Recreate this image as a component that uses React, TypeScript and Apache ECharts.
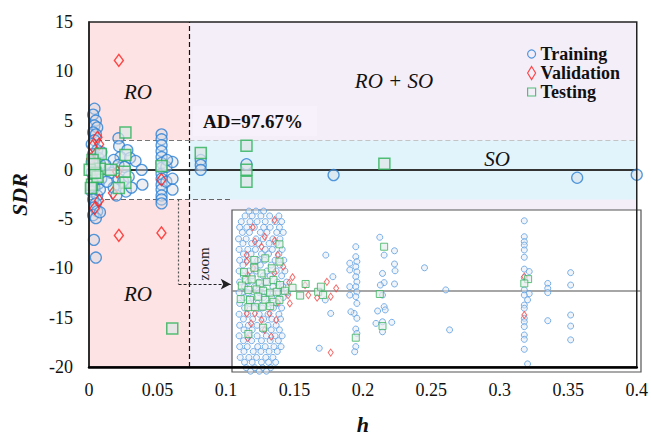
import React, { useEffect, useRef } from 'react';
import * as echarts from 'echarts';

// ---------- thresholds ----------
const hStar = 0.0733; // warning leverage h*
const sdrLimit = 3;   // ±3 standardized residual
const zoomLeverX = 0.0654; // x of dotted "zoom" leader
const zoomLeverY = -11.6;  // y of "zoom" arrow
const insetLeftH = 0.1035; // h where the inset box starts (arrow tip)

// ---------- axis ticks ----------
const xTicks = { min: 0, max: 0.4, step: 0.05 };
const yTicks = { min: -20, max: 15, step: 5 };

// ---------- main plot data [h, SDR] ----------
const mainTraining: number[][] = [
  [0.004, 6.2], [0.003, 5.6], [0.005, 5.0], [0.004, 4.5], [0.006, 4.3], [0.003, 3.8], [0.005, 3.6], [0.004, 3.0],
  [0.002, 2.6], [0.006, 2.0], [0.003, 1.6], [0.007, 1.2], [0.002, 0.8], [0.005, 0.5], [0.004, 0.1], [0.002, -0.3],
  [0.006, -0.6], [0.003, -1.0], [0.007, -1.4], [0.004, -1.8], [0.002, -2.2], [0.006, -2.6], [0.003, -3.0], [0.005, -3.4],
  [0.004, -3.8], [0.006, -4.2], [0.003, -4.6], [0.005, -4.9], [0.008, -4.3], [0.0036, -7.1], [0.005, -8.9], [0.008, 0.6],
  [0.009, -0.9], [0.009, 1.8], [0.008, -2.0],
  [0.0215, 3.2], [0.022, 2.4], [0.028, 2.0], [0.023, 1.3], [0.018, 1.0], [0.030, 1.2], [0.034, 0.9], [0.0215, 0.5],
  [0.026, 0.3], [0.0385, 0.0], [0.016, -0.3], [0.0215, -0.9], [0.025, -1.2], [0.029, -0.7], [0.039, -1.5], [0.018, -1.8],
  [0.027, -2.2], [0.020, -2.6], [0.012, 0.5], [0.013, -1.2], [0.031, -1.8],
  [0.053, 3.6], [0.053, 3.1], [0.053, 2.5], [0.053, 1.9], [0.053, 1.3], [0.053, 0.7], [0.053, 0.2], [0.053, -0.4],
  [0.053, -0.9], [0.053, -1.5], [0.053, -2.0], [0.053, -2.6], [0.053, -3.0], [0.053, -3.4], [0.0565, -1.2], [0.0565, 0.3],
  [0.061, 0.8], [0.061, -0.9], [0.061, -2.0], [0.057, 1.0],
  [0.0816, 1.0], [0.0816, 0.5], [0.0816, 0.0], [0.115, 0.57], [0.1786, -0.53], [0.3565, -0.8], [0.4, -0.5],
];

const mainValidation: number[][] = [
  [0.0218, 11.1], [0.0062, 3.3], [0.0074, 2.6], [0.0026, 2.4], [0.0015, 1.1], [0.0206, -0.2], [0.0175, -2.35],
  [0.0074, -3.1], [0.0041, -3.9], [0.0218, -6.65], [0.0529, -6.4], [0.0529, -1.0],
];

const mainTesting: number[][] = [
  [0.0266, 3.8], [0.0086, 1.6], [0.0026, 1.0], [0.0079, 0.1], [0.016, 0.0], [0.0005, 0.0], [0.0022, -1.5],
  [0.0266, 1.5], [0.0261, -0.2], [0.0266, -1.3], [0.0218, -1.85], [0.0529, 0.4], [0.0014, -1.85], [0.0062, -0.7],
  [0.0045, -0.3], [0.004, 0.6], [0.0608, -16.1], [0.0816, 1.7], [0.115, 2.45], [0.115, 0.0], [0.115, -1.2], [0.2157, 0.63],
];

// ---------- inset (zoom of the applicability domain) data ----------
// dense training cluster, one row per approximate SDR level: [SDR, h values]
const insetTrainingRows: [number, number[]][] = [
  [2.96, [0.0031, 0.0044, 0.0058]],
  [2.78, [0.0024, 0.0037, 0.0053, 0.0069, 0.0086]],
  [2.57, [0.0017, 0.0033, 0.0046, 0.0061, 0.0079, 0.0091]],
  [2.36, [0.0014, 0.0027, 0.0041, 0.0058, 0.0070, 0.0087]],
  [2.17, [0.0019, 0.0032, 0.0052, 0.0064, 0.0082, 0.0094]],
  [1.93, [0.0012, 0.0026, 0.0044, 0.0057, 0.0075, 0.0088]],
  [1.76, [0.0020, 0.0036, 0.0049, 0.0068, 0.0081]],
  [1.54, [0.0013, 0.0029, 0.0043, 0.0061, 0.0074, 0.0092]],
  [1.37, [0.0021, 0.0035, 0.0054, 0.0067, 0.0086]],
  [1.14, [0.0014, 0.0028, 0.0047, 0.0060, 0.0079, 0.0095]],
  [0.96, [0.0020, 0.0039, 0.0052, 0.0072, 0.0088]],
  [0.74, [0.0013, 0.0031, 0.0045, 0.0064, 0.0081, 0.0097]],
  [0.56, [0.0021, 0.0037, 0.0057, 0.0070, 0.0091]],
  [0.33, [0.0014, 0.0030, 0.0049, 0.0063, 0.0083, 0.0100]],
  [0.16, [0.0023, 0.0041, 0.0055, 0.0075, 0.0093]],
  [-0.06, [0.0013, 0.0029, 0.0050, 0.0065, 0.0085, 0.0102]],
  [-0.24, [0.0022, 0.0038, 0.0058, 0.0073, 0.0094]],
  [-0.46, [0.0014, 0.0032, 0.0047, 0.0067, 0.0083]],
  [-0.63, [0.0023, 0.0041, 0.0056, 0.0076, 0.0091]],
  [-0.86, [0.0013, 0.0029, 0.0050, 0.0066, 0.0086]],
  [-1.04, [0.0021, 0.0038, 0.0058, 0.0073, 0.0089]],
  [-1.27, [0.0014, 0.0030, 0.0046, 0.0066, 0.0081]],
  [-1.44, [0.0022, 0.0037, 0.0057, 0.0072, 0.0087]],
  [-1.66, [0.0013, 0.0031, 0.0046, 0.0063, 0.0079, 0.0092]],
  [-1.84, [0.0021, 0.0036, 0.0054, 0.0070, 0.0085]],
  [-2.06, [0.0014, 0.0028, 0.0047, 0.0061, 0.0077, 0.0090]],
  [-2.24, [0.0022, 0.0039, 0.0053, 0.0068, 0.0083]],
  [-2.46, [0.0015, 0.0031, 0.0045, 0.0062, 0.0075]],
  [-2.64, [0.0023, 0.0037, 0.0054, 0.0067, 0.0080]],
  [-2.84, [0.0026, 0.0042, 0.0056, 0.0071]],
  [-2.97, [0.0034, 0.0050, 0.0063]],
];

const insetTrainingOther: number[][] = [
  [0.0172, 1.33], [0.0185, 0.53], [0.0171, -0.33], [0.0181, -0.83], [0.0160, -2.12],
  [0.0227, 1.64], [0.0227, 1.27], [0.0229, 1.09], [0.0227, 0.9], [0.0229, 0.71], [0.0227, 0.53], [0.0229, 0.34],
  [0.0227, 0.16], [0.0229, -0.03], [0.0227, -0.21], [0.0229, -0.46], [0.0224, -0.83], [0.0229, -1.01], [0.0227, -1.41],
  [0.0229, -1.57], [0.0227, -2.06], [0.0225, -2.25], [0.0216, 1.03], [0.0216, 0.78], [0.0216, 0.16], [0.0216, -0.15],
  [0.0218, -0.77],
  [0.0271, 1.99], [0.0279, 1.33], [0.0276, 0.65], [0.0279, 0.31], [0.0272, 0.22], [0.0276, -0.15], [0.0279, -0.58],
  [0.0281, -0.7], [0.0267, -0.74], [0.0276, -1.14], [0.0276, -1.51], [0.0264, -1.2],
  [0.0298, 1.49], [0.0298, 1.0], [0.0299, 0.75], [0.0298, 0.26], [0.0293, -1.16],
  [0.0353, 0.86], [0.0399, -1.44], [0.0392, 0.04],
  [0.0536, 2.6], [0.0536, 2.01], [0.0536, 1.83], [0.0536, 1.7], [0.0536, 1.52], [0.0536, 1.25], [0.0536, 0.81],
  [0.0545, 0.72], [0.0536, 0.5], [0.0536, 0.04], [0.0545, -0.1], [0.0536, -0.15], [0.0542, -0.33], [0.0536, -0.52],
  [0.0536, -0.64], [0.0536, -1.01], [0.0536, -1.14], [0.0536, -1.32], [0.0536, -1.63], [0.0536, -1.79], [0.0536, -2.16],
  [0.0542, -2.7],
  [0.0579, 0.28], [0.0579, 0.1], [0.0579, -0.06], [0.0579, -1.1],
  [0.0621, 0.68], [0.0621, 0.22], [0.0621, -0.89], [0.0621, -1.3], [0.0621, -1.81],
];

const insetValidation: number[][] = [
  [0.0078, 2.63], [0.0038, 2.36], [0.006, 2.01], [0.0078, 1.86], [0.0042, 1.83], [0.0054, 1.64], [0.0027, 1.33],
  [0.0084, 1.33], [0.0027, 1.09], [0.0039, 0.84], [0.0078, 0.68], [0.0094, 0.9], [0.0029, 0.59], [0.0111, 0.51],
  [0.0105, 0.31], [0.0134, 0.22], [0.0174, 0.34], [0.0191, 0.1], [0.014, -0.15], [0.0156, -0.25], [0.0181, -0.21],
  [0.0103, -0.15], [0.0106, -0.46], [0.0084, -0.42], [0.0069, -0.83], [0.0027, -0.83], [0.0042, -0.83], [0.0035, -1.2],
  [0.0054, -1.07], [0.0081, -1.07], [0.006, -1.44], [0.0029, -1.75], [0.0072, -1.69], [0.0181, -2.28],
  [0.0536, 0.53], [0.0536, -0.89],
];

const insetTesting: number[][] = [
  [0.0087, 1.73], [0.0041, 1.15], [0.0061, 1.21], [0.0087, 1.09], [0.0041, 0.86], [0.0073, 0.84], [0.0054, 0.65],
  [0.0022, 0.7], [0.0026, 0.41], [0.0036, 0.43], [0.0051, 0.28], [0.0064, 0.34], [0.0076, 0.41], [0.0088, 0.22],
  [0.0097, 0.01], [0.0111, 0.12], [0.0135, 0.26], [0.0125, -0.17], [0.0158, -0.03], [0.0163, 0.16], [0.0167, -0.15],
  [0.0018, 0.2], [0.003, 0.04], [0.0045, 0.06], [0.0057, 0.01], [0.007, -0.06], [0.0082, -0.03], [0.0016, -0.3],
  [0.0033, -0.33], [0.0048, -0.21], [0.0061, -0.33], [0.0076, -0.4], [0.0087, -0.33], [0.003, -0.6], [0.0042, -0.6],
  [0.0056, -0.58], [0.007, -0.56], [0.0057, -1.36], [0.003, -1.59],
  [0.0279, 1.64], [0.0271, -0.11], [0.0276, -1.3], [0.0227, -1.73], [0.0543, 0.44], [0.0536, 0.28],
];

const insetRange = { xMin: 0, xMax: 0.075, yMin: -3, yMax: 3 };

// ---------- styles ----------
const SERIF = '"Liberation Serif", "Times New Roman", serif';
const BLUE = '#2a7fd4';
const RED = '#ff1e1e';
const GREEN = '#2cb257';
const PINK = '#fde3e3';
const LAVENDER = '#f4eef9';
const SKY = '#e2f4fb';

export default function App() {
  const ref = useRef<HTMLDivElement>(null);

  useEffect(() => {
    if (!ref.current) return;
    const chart = echarts.init(ref.current, undefined, { renderer: 'svg' });

    const insetTraining: number[][] = [];
    insetTrainingRows.forEach(([y, hs]) => hs.forEach((h) => insetTraining.push([h, y])));
    insetTrainingOther.forEach((p) => insetTraining.push(p));

    const textEl = (text: string, x: number, y: number, size: number, opts: any = {}) => ({
      type: 'text',
      x,
      y,
      z: 10,
      rotation: opts.rotation || 0,
      style: {
        text,
        fontFamily: SERIF,
        fontSize: size,
        fontStyle: opts.italic ? 'italic' : 'normal',
        fontWeight: opts.bold ? 'bold' : 'normal',
        fill: opts.color || '#111',
        align: 'center',
        verticalAlign: 'middle',
      },
    });

    const option: any = {
      animation: false,
      backgroundColor: '#fff',
      grid: [
        { left: 87, right: 7, top: 22, bottom: 64, show: true, borderColor: '#222', borderWidth: 1.5, backgroundColor: 'transparent', z: 3 },
        { left: 232, top: 210, width: 409, height: 162, show: false },
      ],
      xAxis: [
        {
          type: 'value', gridIndex: 0, min: xTicks.min, max: xTicks.max, interval: xTicks.step, z: 3,
          name: 'h', nameLocation: 'middle', nameGap: 46,
          nameTextStyle: { fontFamily: SERIF, fontSize: 22, fontWeight: 'bold', fontStyle: 'italic', color: '#111' },
          axisLine: { show: true, onZero: false, lineStyle: { color: '#000', width: 2.5 } },
          axisTick: { show: false },
          splitLine: { show: false },
          axisLabel: {
            fontFamily: SERIF, fontSize: 18, color: '#111', margin: 14,
            formatter: (v: number) => String(+v.toFixed(2)),
          },
        },
        { type: 'value', gridIndex: 1, min: insetRange.xMin, max: insetRange.xMax, show: false },
      ],
      yAxis: [
        {
          type: 'value', gridIndex: 0, min: yTicks.min, max: yTicks.max, interval: yTicks.step, z: 3,
          name: 'SDR', nameLocation: 'middle', nameGap: 59,
          nameTextStyle: { fontFamily: SERIF, fontSize: 22, fontWeight: 'bold', fontStyle: 'italic', color: '#111' },
          axisLine: { show: true, onZero: false, lineStyle: { color: '#222', width: 1.5 } },
          axisTick: { show: false },
          splitLine: { show: false },
          axisLabel: { fontFamily: SERIF, fontSize: 18, color: '#111', margin: 16 },
        },
        { type: 'value', gridIndex: 1, min: insetRange.yMin, max: insetRange.yMax, show: false },
      ],
      legend: {
        orient: 'vertical',
        left: 522,
        top: 40,
        itemWidth: 8,
        itemHeight: 13,
        itemGap: 1,
        textStyle: { fontFamily: SERIF, fontSize: 18, fontWeight: 'bold', color: '#111' },
        data: [
          { name: 'Training', icon: 'circle', itemStyle: { color: 'rgba(255,255,255,0)', borderColor: BLUE, borderWidth: 1.2 } },
          { name: 'Validation', icon: 'path://M4,0 L8,6.5 L4,13 L0,6.5 Z', itemStyle: { color: 'rgba(255,255,255,0)', borderColor: RED, borderWidth: 1.2 } },
          { name: 'Testing', icon: 'path://M0,0 L8,0 L8,8 L0,8 Z', itemStyle: { color: 'rgba(255,255,255,0)', borderColor: GREEN, borderWidth: 1.2 } },
        ],
      },
      graphic: [
        // inset panel
        { type: 'rect', z: 1.5, shape: { x: 232, y: 210, width: 409, height: 162 }, style: { fill: '#fff', stroke: '#555', lineWidth: 1.2 } },
        // faint box behind AD label
        { type: 'rect', z: 1.3, shape: { x: 193, y: 106, width: 124, height: 30 }, style: { fill: 'rgba(255,255,255,0.2)' } },
        textEl('RO', 138, 92, 21, { italic: true }),
        textEl('RO', 138, 294, 21, { italic: true }),
        textEl('RO + SO', 394, 81, 21, { italic: true }),
        textEl('SO', 497, 159, 21, { italic: true }),
        textEl('AD=97.67%', 253, 121, 19, { bold: true }),
        textEl('zoom', 204, 264, 15, { rotation: Math.PI / 2, color: '#222' }),
      ],
      series: [
        {
          name: 'Training', type: 'scatter', xAxisIndex: 0, yAxisIndex: 0, z: 2,
          data: mainTraining, symbol: 'circle', symbolSize: 11,
          itemStyle: { color: 'rgba(214,219,228,0.55)', borderColor: BLUE, borderWidth: 1.3 },
          markArea: {
            silent: true, z: 1,
            data: [
              [{ coord: [xTicks.min, yTicks.min], itemStyle: { color: PINK } }, { coord: [hStar, yTicks.max] }],
              [{ coord: [xTicks.min, -sdrLimit], itemStyle: { color: '#ffffff' } }, { coord: [hStar, sdrLimit] }],
              [{ coord: [hStar, yTicks.min], itemStyle: { color: LAVENDER } }, { coord: [xTicks.max, yTicks.max] }],
              [{ coord: [hStar, -sdrLimit], itemStyle: { color: SKY } }, { coord: [xTicks.max, sdrLimit] }],
            ],
          },
          markLine: {
            silent: true, z: 1.2, symbol: ['none', 'none'], label: { show: false },
            data: [
              [{ coord: [xTicks.min, 0], lineStyle: { color: '#333', width: 1.8, type: 'solid' } }, { coord: [xTicks.max, 0] }],
              [{ coord: [hStar, yTicks.min], lineStyle: { color: '#111', width: 1.2, type: [5, 3] } }, { coord: [hStar, yTicks.max] }],
              [{ coord: [xTicks.min, sdrLimit], lineStyle: { color: '#777', width: 1.2, type: [5, 3] } }, { coord: [hStar, sdrLimit] }],
              [{ coord: [hStar, sdrLimit], lineStyle: { color: '#c4c4c4', width: 1, type: [5, 3] } }, { coord: [xTicks.max, sdrLimit] }],
              [{ coord: [xTicks.min, -sdrLimit], lineStyle: { color: '#666', width: 1.2, type: [5, 3] } }, { coord: [insetLeftH, -sdrLimit] }],
              [{ coord: [zoomLeverX, -sdrLimit], lineStyle: { color: '#555', width: 1.2, type: [2, 2] } }, { coord: [zoomLeverX, zoomLeverY] }],
              [
                { coord: [zoomLeverX, zoomLeverY], symbol: 'none', lineStyle: { color: '#222', width: 1.2, type: [3, 2] } },
                { coord: [insetLeftH, zoomLeverY], symbol: 'arrow', symbolSize: [8, 10] },
              ],
            ],
          },
        },
        {
          name: 'Validation', type: 'scatter', xAxisIndex: 0, yAxisIndex: 0, z: 2,
          data: mainValidation, symbol: 'diamond', symbolSize: [9, 12],
          itemStyle: { color: 'rgba(255,255,255,0.15)', borderColor: RED, borderWidth: 1.4 },
        },
        {
          name: 'Testing', type: 'scatter', xAxisIndex: 0, yAxisIndex: 0, z: 2,
          data: mainTesting, symbol: 'rect', symbolSize: 11,
          itemStyle: { color: 'rgba(222,230,230,0.9)', borderColor: GREEN, borderWidth: 1.5 },
        },
        {
          name: 'Training', type: 'scatter', xAxisIndex: 1, yAxisIndex: 1, z: 2,
          data: insetTraining, symbol: 'circle', symbolSize: 6,
          itemStyle: { color: 'rgba(226,232,240,0.6)', borderColor: '#5a9de2', borderWidth: 1 },
          markLine: {
            silent: true, z: 1.8, symbol: ['none', 'none'], label: { show: false },
            data: [[{ coord: [insetRange.xMin, 0], lineStyle: { color: '#888', width: 1.5, type: 'solid' } }, { coord: [insetRange.xMax, 0] }]],
          },
        },
        {
          name: 'Validation', type: 'scatter', xAxisIndex: 1, yAxisIndex: 1, z: 2,
          data: insetValidation, symbol: 'diamond', symbolSize: [5, 7],
          itemStyle: { color: 'rgba(255,255,255,0.1)', borderColor: '#f04848', borderWidth: 1 },
        },
        {
          name: 'Testing', type: 'scatter', xAxisIndex: 1, yAxisIndex: 1, z: 2,
          data: insetTesting, symbol: 'rect', symbolSize: 7,
          itemStyle: { color: 'rgba(228,236,236,0.85)', borderColor: '#3ab35c', borderWidth: 1 },
        },
      ],
    };

    chart.setOption(option);
    return () => chart.dispose();
  }, []);

  return <div ref={ref} style={{ position: 'fixed', left: 0, top: 0, width: 651, height: 440 }} />;
}
